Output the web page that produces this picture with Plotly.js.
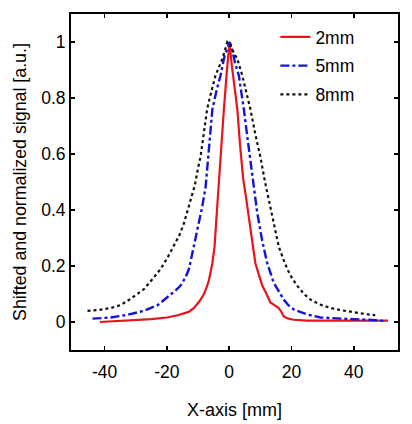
<!DOCTYPE html>
<html>
<head>
<meta charset="utf-8">
<script src="https://cdn.plot.ly/plotly-3.0.1.min.js"></script>
<style>html,body{margin:0;padding:0;background:#fff;}#chart{width:412px;height:424px;}</style>
</head>
<body>
<div id="chart"></div>
<script>
const seriesNames = ["2mm", "5mm", "8mm"];

const x2mm = [-41.5, -35, -30, -25, -20, -16.5, -13, -11.3, -9.5, -8.1, -7.2, -6.5, -5.4, -4.7, -3.8, -3.0, -1.7, -0.8, 0.1, 0.8, 1.6, 2.6, 3.5, 4.5, 5.2, 5.8, 6.6, 7.4, 8.4, 9.5, 10.6, 12.0, 13.2, 14.5, 15.9, 16.8, 17.5, 19.0, 20.7, 25, 30, 35, 40, 45, 49.6, 51];
const y2mm = [0.0, 0.003, 0.006, 0.01, 0.016, 0.024, 0.036, 0.05, 0.075, 0.1, 0.125, 0.15, 0.21, 0.27, 0.42, 0.56, 0.76, 0.89, 1.0, 0.92, 0.84, 0.76, 0.63, 0.51, 0.46, 0.41, 0.35, 0.29, 0.21, 0.17, 0.13, 0.1, 0.07, 0.06, 0.05, 0.035, 0.02, 0.012, 0.008, 0.005, 0.005, 0.005, 0.005, 0.004, 0.004, 0.005];

const x5mm = [-43.9, -38, -33, -27.4, -23, -19.9, -17.5, -15.6, -14, -12.9, -11.3, -9.7, -8.7, -7.6, -6.5, -5.4, -4, -2.8, -1.5, 0.2, 1.2, 2.0, 3.1, 4.0, 4.7, 5.6, 6.6, 7.6, 8.3, 9.0, 10.6, 12.2, 14.3, 16, 17.5, 19, 20.7, 23, 25, 29.3, 35, 40, 45, 49.6];
const y5mm = [0.012, 0.016, 0.025, 0.04, 0.06, 0.087, 0.11, 0.13, 0.16, 0.19, 0.27, 0.35, 0.41, 0.48, 0.62, 0.76, 0.83, 0.88, 0.95, 1.0, 0.96, 0.92, 0.88, 0.82, 0.76, 0.68, 0.59, 0.51, 0.45, 0.39, 0.29, 0.21, 0.14, 0.11, 0.08, 0.06, 0.045, 0.035, 0.027, 0.016, 0.012, 0.01, 0.008, 0.004];

const x8mm = [-45.5, -42, -38, -35, -32.7, -30, -27.4, -24.5, -22, -19.8, -17.8, -16, -14.6, -12.4, -11, -10, -9.2, -8.2, -7.1, -5.8, -4.4, -2.2, -0.6, 0.4, 1.5, 2.6, 4.2, 5.5, 6.8, 8.4, 10, 11.5, 12.5, 13.5, 14.7, 15.9, 17.2, 18.6, 20, 21.8, 24, 26.1, 29, 32.5, 36, 40, 44, 46.9];
const y8mm = [0.04, 0.043, 0.05, 0.06, 0.075, 0.095, 0.117, 0.155, 0.19, 0.23, 0.27, 0.31, 0.35, 0.44, 0.49, 0.55, 0.59, 0.67, 0.76, 0.82, 0.88, 0.94, 1.0, 0.99, 0.96, 0.94, 0.88, 0.82, 0.76, 0.67, 0.59, 0.5, 0.45, 0.39, 0.33, 0.27, 0.23, 0.19, 0.16, 0.13, 0.1, 0.08, 0.063, 0.05, 0.042, 0.034, 0.028, 0.024];

const xTickVals = [-40, -20, 0, 20, 40];
const xTickText = ["-40", "-20", "0", "20", "40"];
const yTickVals = [0, 0.2, 0.4, 0.6, 0.8, 1];
const yTickText = ["0", "0.2", "0.4", "0.6", "0.8", "1"];

const traces = [
  {x: x2mm, y: y2mm, name: seriesNames[0], legendgroup: "a", mode: "lines", line: {color: "#e8141b", width: 2.2, dash: "solid"}},
  {x: x5mm, y: y5mm, name: seriesNames[1], legendgroup: "b", mode: "lines", line: {color: "#1414d8", width: 2.4, dash: "dashdot"}},
  {x: x8mm, y: y8mm, name: seriesNames[2], legendgroup: "c", mode: "lines", line: {color: "#111111", width: 2.2, dash: "dot"}}
];

const fam = "Liberation Sans, Arial, Helvetica, sans-serif";
const tickFont = {family: fam, size: 17.5, color: "#000"};

const layout = {
  width: 412, height: 424,
  margin: {l: 71, r: 14, t: 14, b: 74},
  paper_bgcolor: "#fff", plot_bgcolor: "#fff",
  font: tickFont,
  showlegend: true,
  legend: {x: 0.625, y: 0.985, xanchor: "left", yanchor: "top", bgcolor: "rgba(0,0,0,0)",
           font: tickFont, traceorder: "grouped", tracegroupgap: 3},
  xaxis: {
    range: [-50.8, 54.2],
    tickvals: xTickVals, ticktext: xTickText,
    ticks: "inside", ticklen: 4, tickwidth: 1.5, tickcolor: "#000",
    showline: true, linecolor: "#000", linewidth: 2, mirror: "ticks",
    showgrid: false, zeroline: false, ticklabelstandoff: 5,
    title: {text: "X-axis [mm]", font: {family: fam, size: 18, color: "#000"}, standoff: 22},
    tickfont: tickFont
  },
  yaxis: {
    range: [-0.1, 1.1],
    tickvals: yTickVals, ticktext: yTickText,
    ticks: "inside", ticklen: 4, tickwidth: 1.5, tickcolor: "#000",
    showline: true, linecolor: "#000", linewidth: 2, mirror: "ticks",
    showgrid: false, zeroline: false,
    title: {text: "Shifted and normalized signal [a.u.]", font: {family: fam, size: 17.8, color: "#000"}, standoff: 10},
    tickfont: tickFont
  }
};

Plotly.newPlot("chart", traces, layout, {displayModeBar: false, staticPlot: true});
</script>
</body>
</html>
